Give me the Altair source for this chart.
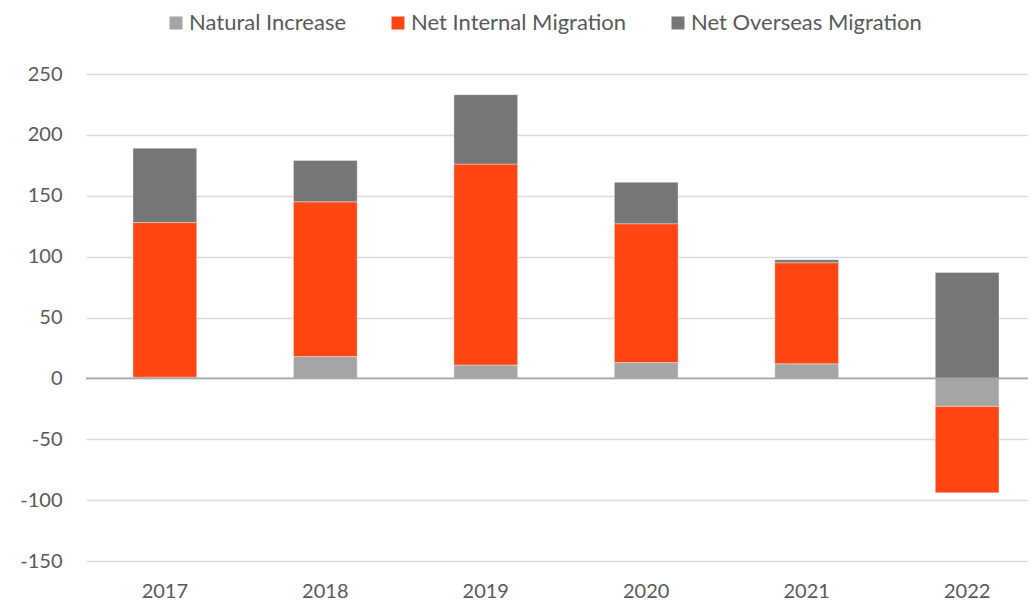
import altair as alt
import pandas as pd

years = ["2017", "2018", "2019", "2020", "2021", "2022"]
natural_increase = [1, 18, 11, 13, 12, -23]
net_internal = [127, 127, 165, 114, 83, -71]
net_overseas = [61, 34, 57, 34, 2.5, 87]

series_names = ["Natural Increase", "Net Internal Migration", "Net Overseas Migration"]
series_values = [natural_increase, net_internal, net_overseas]
series_colors = ["#a5a5a5", "#ff4612", "#767676"]
y_ticks = [-150, -100, -50, 0, 50, 100, 150, 200, 250]

rows = []
for si, (name, vals) in enumerate(zip(series_names, series_values)):
    for yr, v in zip(years, vals):
        rows.append({"year": yr, "series": name, "value": v, "order": si})
df = pd.DataFrame(rows)

FONT = "Lato"
TXT = "#595959"

bars = alt.Chart(df).mark_bar(stroke="#ffffff", strokeWidth=0.6, strokeOpacity=0.6).encode(
    x=alt.X(
        "year:N",
        sort=years,
        scale=alt.Scale(range=[0, 960], paddingInner=0.603, paddingOuter=0.293),
        axis=alt.Axis(
            title=None, labelAngle=0, domain=False, ticks=False, grid=False,
            labelPadding=20, labelFontSize=20, labelFont=FONT, labelColor=TXT,
        ),
    ),
    y=alt.Y(
        "value:Q",
        stack="zero",
        scale=alt.Scale(domain=[-150, 250], nice=False, zero=False),
        axis=alt.Axis(
            title=None, values=y_ticks, domain=False, ticks=False,
            gridColor="#d9d9d9", gridWidth=1.3, labelPadding=24,
            labelFontSize=20, labelFont=FONT, labelColor=TXT,
            labelExpr="toString(datum.value)",
        ),
    ),
    color=alt.Color(
        "series:N",
        scale=alt.Scale(domain=series_names, range=series_colors),
        legend=alt.Legend(
            title=None, orient="none", direction="horizontal",
            legendX=79, legendY=-62, padding=0,
            symbolType="square", symbolSize=169, symbolStrokeWidth=0,
            symbolOpacity=1, labelOffset=2, columnPadding=40,
            labelFontSize=22, labelFont=FONT, labelColor=TXT, labelLimit=400,
        ),
    ),
    order=alt.Order("order:Q", sort="ascending"),
)

zero_line = alt.Chart(pd.DataFrame({"z": [0]})).mark_rule(
    color="#a6a6a6", strokeWidth=1.8
).encode(y="z:Q")

chart = alt.layer(bars, zero_line).properties(
    width=942,
    height=487,
    autosize=alt.AutoSizeParams(type="none"),
    padding={"left": 78, "top": 66, "right": 0, "bottom": 46},
    background="#ffffff",
).configure_view(stroke=None)

chart.save("out.html", embed_options={"renderer": "svg", "actions": False})
